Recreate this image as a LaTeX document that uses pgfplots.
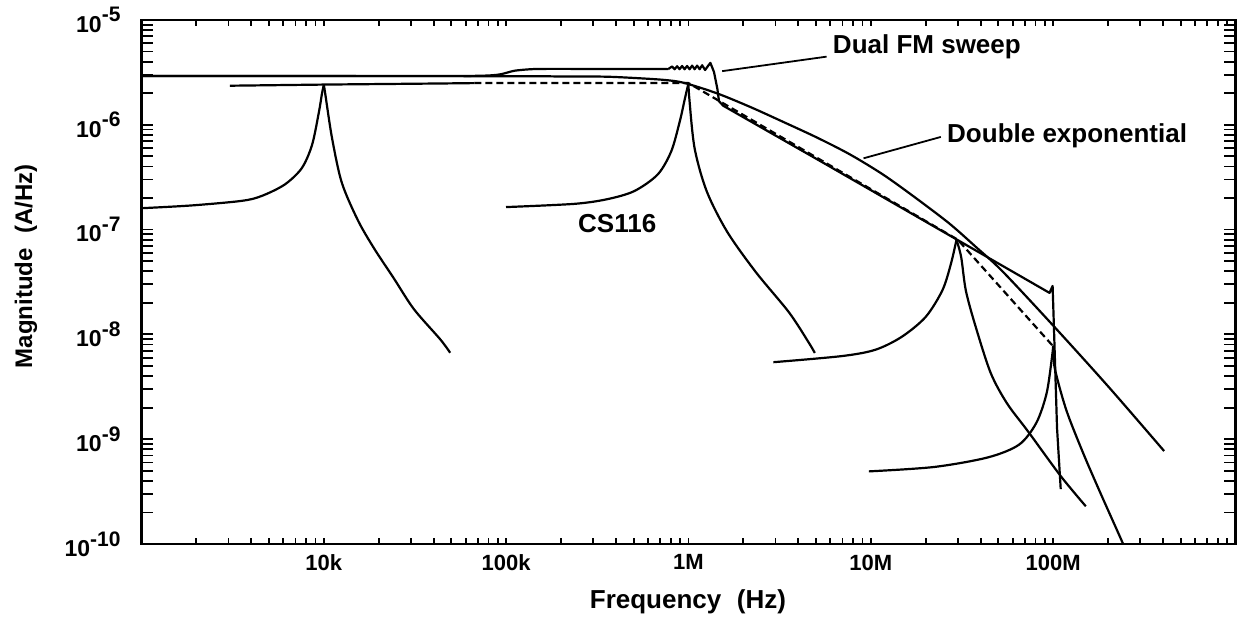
\documentclass[border=0pt]{standalone}
\usepackage{fontspec}
\setmainfont{Liberation Sans}
\usepackage{pgfplots}
\pgfplotsset{compat=1.18}
\newcommand{\ytl}[1]{10\raisebox{0.45em}{\fontsize{10.5}{10.5}\selectfont -#1}}
\begin{document}
\begin{tikzpicture}
% main axis: data, x ticks
\begin{axis}[
  scale only axis,
  width=547pt, height=262pt,
  xmode=log, ymode=log,
  xmin=1e3, xmax=1e9, ymin=1e-10, ymax=1e-5,
  axis line style={line width=1.3pt},
  tick align=inside,
  tick style={black, line width=0.9pt},
  major tick length=3pt, minor tick length=3pt,
  xtick={1e3,1e4,1e5,1e6,1e7,1e8,1e9},
  xticklabels={{},10k,100k,1M,10M,100M,{}},
  minor xtick={2e3,3e3,4e3,5e3,6e3,7e3,8e3,9e3,2e4,3e4,4e4,5e4,6e4,7e4,8e4,9e4,2e5,3e5,4e5,5e5,6e5,7e5,8e5,9e5,2e6,3e6,4e6,5e6,6e6,7e6,8e6,9e6,2e7,3e7,4e7,5e7,6e7,7e7,8e7,9e7,2e8,3e8,4e8,5e8,6e8,7e8,8e8,9e8},
  ytick=\empty,
  xticklabel style={font=\bfseries\fontsize{11}{11}\selectfont, yshift=-1.8pt},
  xlabel={Frequency\hspace{0.6em}(Hz)},
  xlabel style={font=\bfseries\fontsize{13}{13}\selectfont, at={(axis description cs:0.4995,-0.123)}, anchor=base},
  cycle list={{black, solid}},
  every axis plot/.append style={black, line width=1.1pt, line join=round, mark=none},
]
\coordinate (SW) at (rel axis cs:0,0);
\coordinate (NE) at (rel axis cs:1,1);

% Dual FM sweep
\addplot[smooth, tension=0.35] coordinates {
(1e3,2.92e-6) (5.19e4,2.92e-6) (8.93e4,3.0e-6) (1.11e5,3.28e-6) (1.48e5,3.41e-6) (3.45e5,3.41e-6) (7.73e5,3.40e-6)
};
\addplot coordinates {
(7.73e5,3.40e-6) (8.13e5,3.60e-6) (8.39e5,3.39e-6) (8.66e5,3.62e-6) (8.93e5,3.39e-6)
(9.22e5,3.64e-6) (9.52e5,3.39e-6) (9.82e5,3.64e-6) (1.014e6,3.39e-6) (1.047e6,3.67e-6) (1.080e6,3.39e-6)
(1.115e6,3.67e-6) (1.151e6,3.39e-6) (1.188e6,3.70e-6) (1.233e6,3.33e-6) (1.273e6,3.60e-6) (1.318e6,3.90e-6)
(1.38e6,3.19e-6) (1.44e6,2.20e-6) (1.47e6,1.68e-6) (1.55e6,1.52e-6)
(5.51e6,4.32e-7) (2.92e7,8.15e-8) (9.55e7,2.49e-8) (9.93e7,2.9e-8) (1.01e8,1.15e-8) (1.05e8,1.28e-9) (1.10e8,3.34e-10)
};

% Double exponential
\addplot[smooth, tension=0.5] coordinates {
(1e3,2.92e-6) (1e5,2.91e-6) (2e5,2.89e-6) (3.45e5,2.88e-6) (5e5,2.80e-6) (7.36e5,2.68e-6) (9.47e5,2.51e-6)
(1.44e6,1.99e-6) (2.20e6,1.47e-6) (3.33e6,1.06e-6) (5.07e6,7.55e-7) (7.69e6,5.21e-7) (1.17e7,3.34e-7)
(1.78e7,1.98e-7) (2.70e7,1.14e-7) (3.78e7,6.8e-8) (5.27e7,4.0e-8) (9.89e7,1.24e-8) (2e8,3.2e-9) (4.06e8,7.71e-10)
};

% CS116 envelope
\addplot coordinates {(3.05e3,2.36e-6) (1e4,2.42e-6) (4.5e4,2.48e-6) (6.7e4,2.5e-6)};
\addplot[dash pattern=on 3.5pt off 2pt] coordinates {(6.7e4,2.5e-6) (1e6,2.5e-6) (3e7,8.0e-8) (1e8,7.7e-9)};

% CS116 damped sinusoid, 10 kHz
\addplot[smooth, tension=0.5] coordinates {
(1e3,1.60e-7) (1.88e3,1.70e-7) (3.54e3,1.88e-7) (4.55e3,2.09e-7) (6.10e3,2.69e-7) (7.57e3,3.86e-7)
(8.62e3,6.44e-7) (9.41e3,1.34e-6) (9.75e3,1.95e-6) (1.0e4,2.42e-6)
};
\addplot[smooth, tension=0.5] coordinates {
(1.0e4,2.42e-6) (1.02e4,1.93e-6) (1.11e4,7.41e-7)
(1.255e4,2.8e-7) (1.54e4,1.22e-7) (1.89e4,6.58e-8) (2.43e4,3.39e-8) (3.12e4,1.74e-8) (4.35e4,8.97e-9)
(4.93e4,6.68e-9)
};
% 1 MHz
\addplot[smooth, tension=0.5] coordinates {
(9.98e4,1.64e-7) (2.36e5,1.76e-7) (3.58e5,1.95e-7) (5.04e5,2.33e-7) (6.78e5,3.36e-7) (8.04e5,5.58e-7)
(8.96e5,1.08e-6) (9.57e5,1.80e-6) (1.0e6,2.5e-6)
};
\addplot[smooth, tension=0.5] coordinates {
(1.0e6,2.5e-6) (1.01e6,1.80e-6) (1.08e6,5.98e-7) (1.26e6,2.31e-7)
(1.63e6,9.53e-8) (2.34e6,3.93e-8) (3.56e6,1.62e-8) (4.56e6,8.38e-9) (4.93e6,6.65e-9)
};
% 30 MHz
\addplot[smooth, tension=0.5] coordinates {
(2.92e6,5.43e-9) (6.93e6,6.21e-9) (1.06e7,7.14e-9) (1.48e7,9.50e-9) (2.00e7,1.47e-8) (2.47e7,2.64e-8)
(2.75e7,4.72e-8) (2.95e7,8.0e-8)
};
\addplot[smooth, tension=0.5] coordinates {
(2.95e7,8.0e-8) (3.13e7,5.46e-8) (3.32e7,2.62e-8) (3.75e7,1.2e-8) (4.54e7,4.3e-9)
(5.58e7,2.2e-9) (7.30e7,1.18e-9) (1.10e8,4.45e-10) (1.51e8,2.29e-10)
};
% 100 MHz
\addplot[smooth, tension=0.5] coordinates {
(9.75e6,4.93e-10) (2.22e7,5.43e-10) (4.38e7,6.70e-10) (6.50e7,8.87e-10) (8.08e7,1.43e-9) (9.20e7,2.73e-9)
(9.84e7,5.96e-9) (1.0e8,7.8e-9)
};
\addplot[smooth, tension=0.5] coordinates {
(1.0e8,7.8e-9) (1.02e8,4.77e-9) (1.18e8,1.90e-9) (1.46e8,7.38e-10) (1.82e8,3.04e-10)
(2.39e8,1.05e-10) (2.5e8,8.5e-11)
};

% annotation pointers
\addplot[line width=0.9pt] coordinates {(1.53e6,3.25e-6) (5.72e6,4.47e-6)};
\addplot[line width=0.9pt] coordinates {(9.12e6,4.79e-7) (2.42e7,7.66e-7)};

\node[anchor=base west, inner sep=0pt, font=\bfseries\fontsize{13}{13}\selectfont] at (axis cs:6.17e6,4.84e-6) {Dual FM sweep};
\node[anchor=base west, inner sep=0pt, font=\bfseries\fontsize{13}{13}\selectfont] at (axis cs:2.61e7,6.84e-7) {Double exponential};
\node[anchor=base west, inner sep=0pt, font=\bfseries\fontsize{13}{13}\selectfont] at (axis cs:2.47e5,9.46e-8) {CS116};
\end{axis}
% overlay axis: y ticks and labels
\begin{axis}[
  scale only axis,
  width=547pt, height=262pt,
  xmode=log, ymode=log,
  xmin=1e3, xmax=1e9, ymin=1e-10, ymax=1e-5,
  axis line style={line width=1.3pt},
  tick align=inside,
  tick style={black, line width=0.9pt},
  major tick length=6pt, minor tick length=6pt,
  xtick=\empty,
  ytick={1e-10,1e-9,1e-8,1e-7,1e-6,1e-5},
  yticklabels={{\ytl{10}},{\ytl{9}},{\ytl{8}},{\ytl{7}},{\ytl{6}},{\ytl{5}}},
  minor ytick={2e-10,3e-10,4e-10,5e-10,6e-10,7e-10,8e-10,9e-10,2e-9,3e-9,4e-9,5e-9,6e-9,7e-9,8e-9,9e-9,2e-8,3e-8,4e-8,5e-8,6e-8,7e-8,8e-8,9e-8,2e-7,3e-7,4e-7,5e-7,6e-7,7e-7,8e-7,9e-7,2e-6,3e-6,4e-6,5e-6,6e-6,7e-6,8e-6,9e-6},
  yticklabel style={font=\bfseries\fontsize{11.5}{11.5}\selectfont, xshift=-7pt},
  ylabel={Magnitude\hspace{0.6em}(A/Hz)},
  ylabel style={font=\bfseries\fontsize{12}{12}\selectfont, at={(axis description cs:-0.1,0.53)}, anchor=base},
]
\end{axis}
\pgfresetboundingbox
\path[use as bounding box] ([xshift=-70.75pt,yshift=-37pt]SW) rectangle ([xshift=1.75pt,yshift=10pt]NE);
\end{tikzpicture}
\end{document}
